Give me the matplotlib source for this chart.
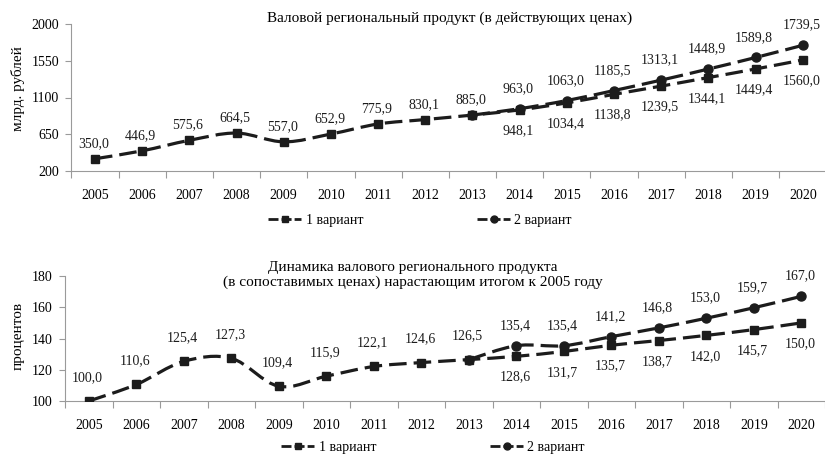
import numpy as np
import matplotlib
matplotlib.use("Agg")
import matplotlib.pyplot as plt
from matplotlib.path import Path
from matplotlib.patches import PathPatch
from matplotlib.lines import Line2D
from matplotlib.ticker import FixedLocator

plt.rcParams["font.family"] = ["Liberation Serif", "DejaVu Serif"]
plt.rcParams["font.size"] = 10

years = list(range(2005, 2021))
years_v2 = list(range(2013, 2021))

# ВРП в действующих ценах, млрд. рублей
grp_v1 = [350.0, 446.9, 575.6, 664.5, 557.0, 652.9, 775.9, 830.1,
          885.0, 948.1, 1034.4, 1138.8, 1239.5, 1344.1, 1449.4, 1560.0]
grp_v2 = [885.0, 963.0, 1063.0, 1185.5, 1313.1, 1448.9, 1589.8, 1739.5]

# ВРП в сопоставимых ценах, % к 2005 году
idx_v1 = [100.0, 110.6, 125.4, 127.3, 109.4, 115.9, 122.1, 124.6,
          126.5, 128.6, 131.7, 135.7, 138.7, 142.0, 145.7, 150.0]
idx_v2 = [126.5, 135.4, 135.4, 141.2, 146.8, 153.0, 159.7, 167.0]

top_yticks = [200, 650, 1100, 1550, 2000]
bottom_yticks = [100, 120, 140, 160, 180]

INK = "#1c1c1c"
GRID = "#9a9a9a"
DASH = (0, (5.5, 2.2))
LW = 2.3


def smooth_path(x, y):
    """Smoothed line as cubic Bezier segments (Catmull-Rom control points)."""
    pts = np.column_stack([x, y]).astype(float)
    n = len(pts)
    verts = [pts[0]]
    codes = [Path.MOVETO]
    for i in range(n - 1):
        p0 = pts[max(i - 1, 0)]
        p1 = pts[i]
        p2 = pts[i + 1]
        p3 = pts[min(i + 2, n - 1)]
        verts += [p1 + (p2 - p0) / 6, p2 - (p3 - p1) / 6, p2]
        codes += [Path.CURVE4] * 3
    return Path(verts, codes)


def fmt(v):
    return f"{v:.1f}".replace(".", ",")


def draw_panel(ax, v1, v2, ylim, yticks, above1):
    for x, y, mk, ms in [(years, v1, "s", 5.5), (years_v2, v2, "o", 6.5)]:
        ax.add_patch(PathPatch(smooth_path(x, y), fill=False, edgecolor=INK,
                               lw=LW, linestyle=DASH, capstyle="butt", zorder=2))
        ax.plot(x, y, linestyle="none", marker=mk, ms=ms, color=INK, zorder=3)

    # подписи значений: до 2013 года над линией, далее 1 вариант под линией
    for x, y in zip(years, v1):
        if x <= 2013:
            ax.annotate(fmt(y), (x, y), xytext=(-1, above1), textcoords="offset points",
                        ha="center", va="center", color=INK)
        else:
            ax.annotate(fmt(y), (x, y), xytext=(-1, -15), textcoords="offset points",
                        ha="center", va="center", color=INK)
    for x, y in zip(years_v2[1:], v2[1:]):
        ax.annotate(fmt(y), (x, y), xytext=(-1, 14.5), textcoords="offset points",
                    ha="center", va="center", color=INK)

    ax.set_xlim(2004.5, 2020.5)
    ax.set_ylim(*ylim)
    ax.set_xticks(years)
    ax.xaxis.set_minor_locator(FixedLocator(np.arange(2004.5, 2021, 1)))
    ax.set_yticks(yticks)
    ax.tick_params(axis="x", which="major", length=0, pad=13)
    ax.tick_params(axis="x", which="minor", length=5, color=GRID, width=0.8)
    ax.tick_params(axis="y", length=4, color=GRID, width=0.8, pad=5)
    for side in ("top", "right"):
        ax.spines[side].set_visible(False)
    for side in ("left", "bottom"):
        ax.spines[side].set_color(GRID)
        ax.spines[side].set_linewidth(0.8)


fig = plt.figure(figsize=(8.25, 4.57), dpi=100)
W, H = 825, 457

ax1 = fig.add_axes([71.4 / W, (H - 171) / H, 755 / W, 147 / H])
draw_panel(ax1, grp_v1, grp_v2, (200, 2000), top_yticks, 11)

ax2 = fig.add_axes([65.2 / W, (H - 401) / H, 760 / W, 125 / H])
draw_panel(ax2, idx_v1, idx_v2, (100, 180), bottom_yticks, 17)

fig.text(450 / W, 1 - 18 / H, "Валовой региональный продукт (в действующих ценах)",
         ha="center", va="center", fontsize=11)
fig.text(413 / W, 1 - 275 / H,
         "Динамика валового регионального продукта\n"
         "(в сопоставимых ценах) нарастающим итогом к 2005 году",
         ha="center", va="center", linespacing=1.1, fontsize=11)
fig.text(18 / W, 1 - 89 / H, "млрд. рублей", rotation=90, ha="center", va="center",
         fontsize=11)
fig.text(18 / W, 1 - 336 / H, "процентов", rotation=90, ha="center", va="center",
         fontsize=11)

handles = [
    Line2D([], [], color=INK, lw=2, linestyle=(0, (3.6, 1.1)), marker="s", ms=4.5),
    Line2D([], [], color=INK, lw=2, linestyle=(0, (3.6, 1.1)), marker="o", ms=5),
]
labels = ["1 вариант", "2 вариант"]
for yc, xc in [(220, 420), (447, 433)]:
    fig.legend(handles, labels, loc="center", bbox_to_anchor=(xc / W, 1 - yc / H),
               ncol=2, frameon=False, handlelength=2.4, handletextpad=0.3,
               columnspacing=8.2, borderpad=0)

fig.savefig("out.png", dpi=100, facecolor="white")
